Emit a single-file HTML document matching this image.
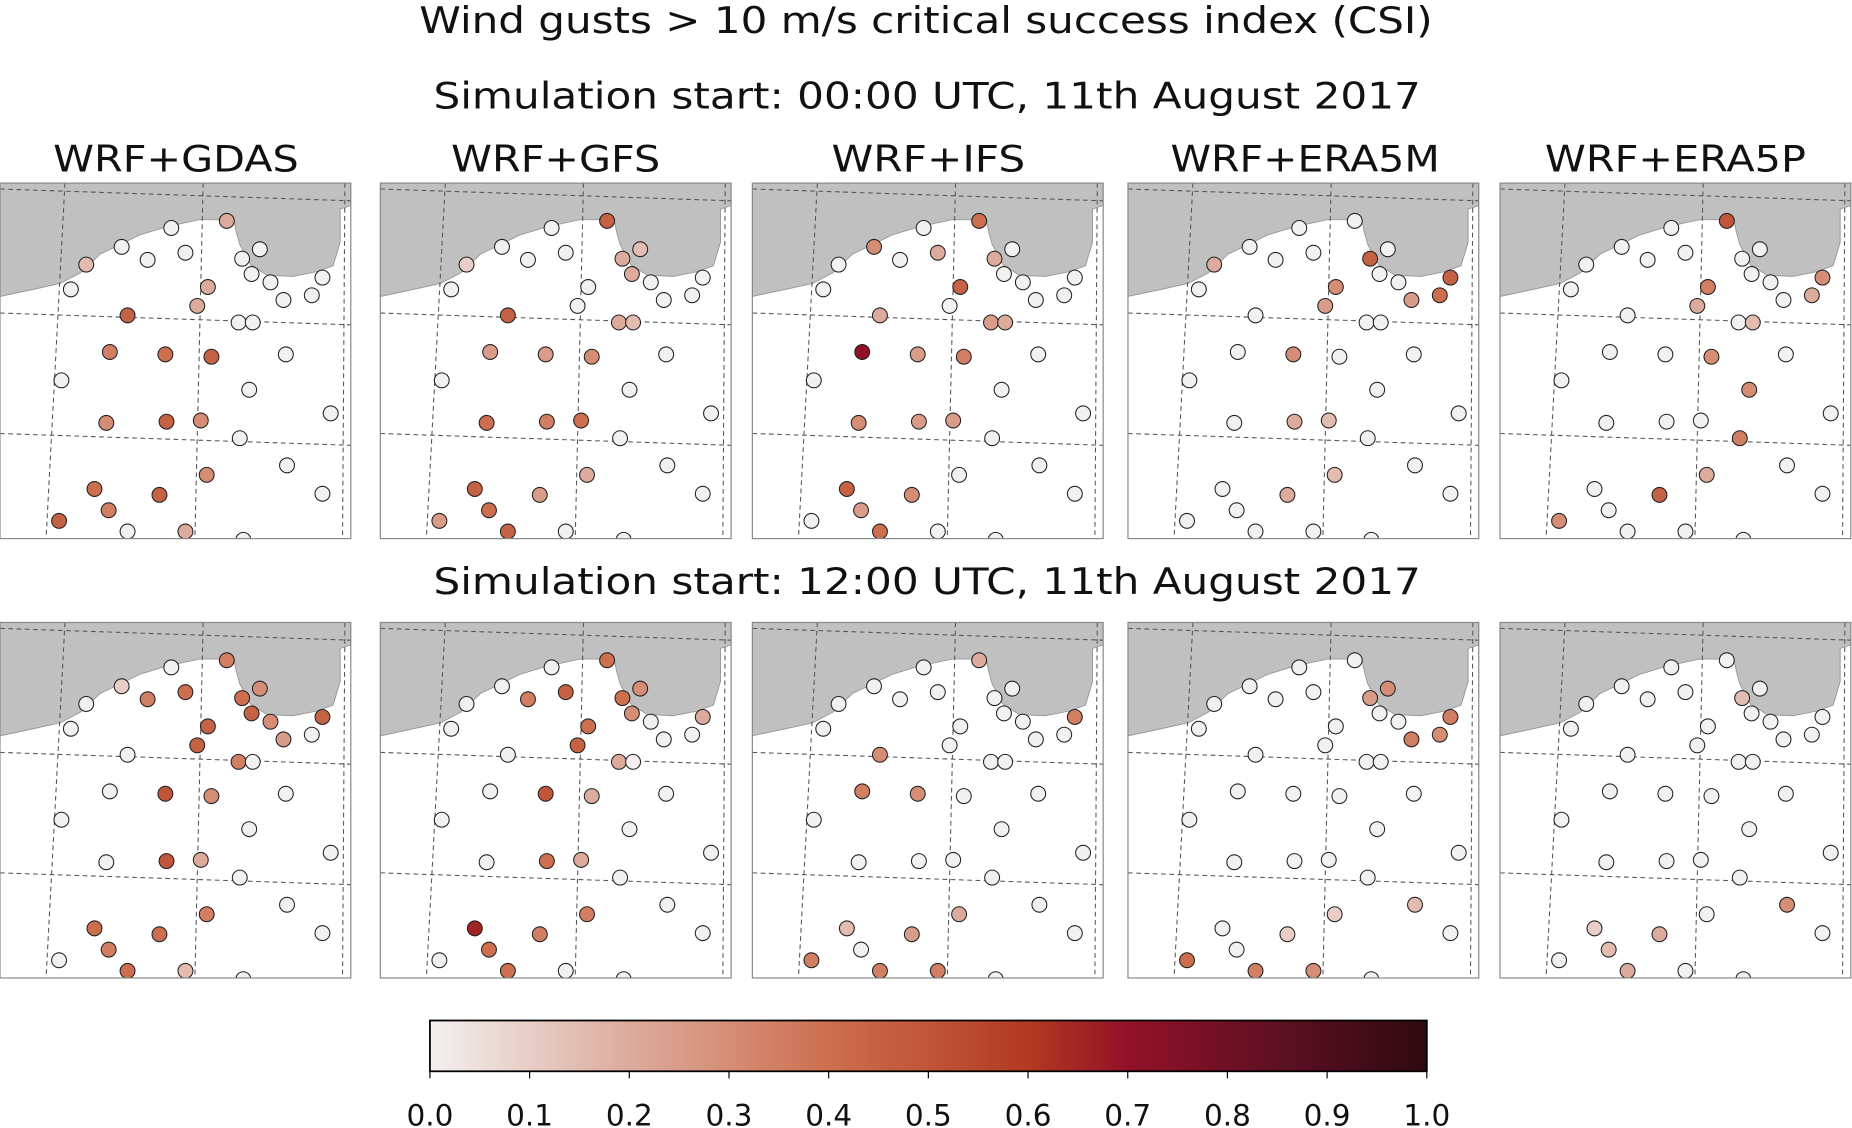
<!DOCTYPE html>
<html><head><meta charset="utf-8"><style>
html,body{margin:0;padding:0;background:#fff;}
svg{display:block;}
text{font-family:"DejaVu Sans","Liberation Sans",sans-serif;fill:#111;}
</style></head><body>
<svg id="s" width="1852" height="1128" viewBox="0 0 1568 955" xmlns="http://www.w3.org/2000/svg">
<defs>
<linearGradient id="cb" x1="0" x2="1" y1="0" y2="0">
<stop offset="0" stop-color="#f3f0f0"/>
<stop offset="0.2" stop-color="#dcab9c"/>
<stop offset="0.4" stop-color="#cd6f4f"/>
<stop offset="0.6" stop-color="#b23a22"/>
<stop offset="0.7" stop-color="#931128"/>
<stop offset="0.85" stop-color="#5e1023"/>
<stop offset="1" stop-color="#2e0a0f"/>
</linearGradient>
<g id="map">
<rect x="0" y="0" width="297" height="301" fill="#fff"/>
<path d="M0,0 L297,0 L297,19 L288,22 L288,50 L282,70 L268,75 L248,79 L226,78 L212,69 L203,52 L200,41 L198,31 L169,31 L141,37 L118,44 L102,52 L85,60 L68,76 L51,85 L28,90 L0,96 Z" fill="#c0c0c0" stroke="#999" stroke-width="0.8"/>
<g stroke="#555" stroke-width="0.9" stroke-dasharray="4,3" fill="none">
<line x1="0" y1="5" x2="297" y2="15"/>
<line x1="0" y1="110" x2="297" y2="120"/>
<line x1="0" y1="212" x2="297" y2="222"/>
<line x1="55" y1="0" x2="39" y2="301"/>
<line x1="172" y1="0" x2="165" y2="301"/>
<line x1="292" y1="0" x2="290" y2="301"/>
</g>
</g>
</defs>
<text x="355" y="28" font-size="31" textLength="858" lengthAdjust="spacingAndGlyphs">Wind gusts &gt; 10 m/s critical success index (CSI)</text>
<text x="367" y="92" font-size="31" textLength="836" lengthAdjust="spacingAndGlyphs">Simulation start: 00:00 UTC, 11th August 2017</text>
<text x="45" y="145" font-size="31" textLength="208" lengthAdjust="spacingAndGlyphs">WRF+GDAS</text>
<text x="382" y="145" font-size="31" textLength="177" lengthAdjust="spacingAndGlyphs">WRF+GFS</text>
<text x="704" y="145" font-size="31" textLength="164" lengthAdjust="spacingAndGlyphs">WRF+IFS</text>
<text x="991" y="145" font-size="31" textLength="228" lengthAdjust="spacingAndGlyphs">WRF+ERA5M</text>
<text x="1308" y="145" font-size="31" textLength="221" lengthAdjust="spacingAndGlyphs">WRF+ERA5P</text>
<text x="367" y="503" font-size="31" textLength="836" lengthAdjust="spacingAndGlyphs">Simulation start: 12:00 UTC, 11th August 2017</text>
<g id="panels"></g>
<rect x="364" y="864" width="844" height="43" fill="url(#cb)" stroke="#000" stroke-width="1.5"/>
<g font-size="25" text-anchor="middle">
<text x="364" y="953">0.0</text><text x="448.4" y="953">0.1</text><text x="532.8" y="953">0.2</text><text x="617.2" y="953">0.3</text><text x="701.6" y="953">0.4</text><text x="786" y="953">0.5</text><text x="870.4" y="953">0.6</text><text x="954.8" y="953">0.7</text><text x="1039.2" y="953">0.8</text><text x="1123.6" y="953">0.9</text><text x="1208" y="953">1.0</text>
</g>
<g stroke="#000" stroke-width="1">
<line x1="364" y1="907" x2="364" y2="913"/><line x1="448.4" y1="907" x2="448.4" y2="913"/><line x1="532.8" y1="907" x2="532.8" y2="913"/><line x1="617.2" y1="907" x2="617.2" y2="913"/><line x1="701.6" y1="907" x2="701.6" y2="913"/><line x1="786" y1="907" x2="786" y2="913"/><line x1="870.4" y1="907" x2="870.4" y2="913"/><line x1="954.8" y1="907" x2="954.8" y2="913"/><line x1="1039.2" y1="907" x2="1039.2" y2="913"/><line x1="1123.6" y1="907" x2="1123.6" y2="913"/><line x1="1208" y1="907" x2="1208" y2="913"/>
</g>
</svg>
<script>
var S=[[145,38],[192,32],[220,56],[205,64],[213,77],[229,84],[240,99],[264,95],[273,80],[157,59],[125,65],[103,54],[73,69],[60,90],[176,88],[167,104],[108,112],[202,118],[214,118],[93,143],[140,145],[179,147],[242,145],[52,167],[211,175],[280,195],[90,203],[141,202],[170,201],[203,216],[243,239],[175,247],[80,259],[135,264],[273,263],[92,277],[50,286],[108,295],[157,295],[206,302]];
var V=[
{1:.2,12:.15,14:.2,15:.2,16:.45,19:.35,20:.4,21:.45,26:.3,27:.45,28:.3,31:.3,32:.4,33:.45,35:.35,36:.45,38:.2},
{1:.45,2:.15,3:.2,4:.2,12:.1,16:.45,17:.2,18:.15,19:.25,20:.25,21:.3,26:.4,27:.35,28:.4,31:.2,32:.45,33:.25,35:.4,36:.25,37:.45},
{1:.4,11:.3,9:.2,14:.45,3:.2,16:.2,17:.25,18:.2,19:.7,20:.25,21:.35,26:.3,27:.25,28:.25,32:.45,33:.3,35:.25,37:.4},
{3:.45,8:.45,7:.4,6:.25,14:.3,15:.25,12:.2,20:.3,27:.2,33:.2,31:.15,28:.15},
{1:.5,14:.35,15:.2,8:.3,7:.2,21:.3,24:.3,29:.35,31:.2,33:.45,36:.3,18:.15},
{1:.35,11:.1,9:.4,10:.35,14:.45,15:.45,17:.35,2:.3,3:.4,4:.45,5:.3,6:.25,8:.45,20:.5,21:.3,27:.5,28:.2,31:.35,32:.4,33:.4,35:.35,37:.4,38:.15},
{1:.4,9:.45,10:.35,14:.4,15:.45,2:.3,3:.4,4:.3,8:.2,17:.2,20:.5,21:.2,27:.4,28:.2,31:.35,32:.65,33:.35,35:.4,37:.4},
{1:.2,16:.3,19:.35,20:.3,8:.35,31:.2,33:.25,36:.35,37:.35,38:.35,32:.15},
{2:.3,3:.25,8:.35,7:.3,6:.35,36:.4,37:.35,38:.3,33:.1,31:.1,30:.15},
{3:.15,30:.3,33:.2,32:.1,37:.2,35:.15}];
var stops=[[0,[243,240,240]],[.2,[220,171,156]],[.4,[205,111,79]],[.6,[178,58,34]],[.7,[147,17,40]],[.85,[94,16,35]],[1,[46,10,15]]];
function col(v){for(var i=1;i<stops.length;i++){if(v<=stops[i][0]){var a=stops[i-1],b=stops[i],t=(v-a[0])/(b[0]-a[0]);return 'rgb('+[0,1,2].map(function(k){return Math.round(a[1][k]+(b[1][k]-a[1][k])*t)}).join(',')+')';}}return 'rgb(46,10,15)';}
var PX=[0,322,637,955,1270],PY=[155,527],g=document.getElementById('panels'),h='';
for(var r=0;r<2;r++)for(var c=0;c<5;c++){var p=r*5+c,x=PX[c],y=PY[r];
h+='<clipPath id="c'+p+'"><rect x="0" y="0" width="297" height="301"/></clipPath><g transform="translate('+x+','+y+')"><g clip-path="url(#c'+p+')"><use href="#map"/>';
for(var i=0;i<S.length;i++){var v=V[p][i]||0;h+='<circle cx="'+S[i][0]+'" cy="'+S[i][1]+'" r="6.3" fill="'+col(v)+'" stroke="#222" stroke-width="0.9"/>';}
h+='</g><rect x="0" y="0" width="297" height="301" fill="none" stroke="#888" stroke-width="1"/></g>';}
g.innerHTML=h;
</script>
</body></html>
